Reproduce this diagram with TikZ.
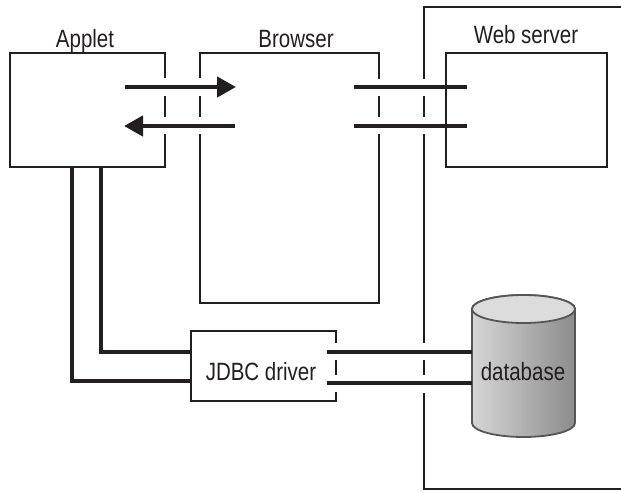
\documentclass[tikz,border=0pt]{standalone}
\usepackage{fontspec}
\setmainfont{Liberation Sans}[FakeStretch=0.82]
\usetikzlibrary{arrows.meta}
\definecolor{ink}{HTML}{231F20}
\definecolor{dbedge}{HTML}{555555}
\definecolor{dbleft}{HTML}{D6D6D6}
\definecolor{dbright}{HTML}{8C8C8C}
\definecolor{dbtop}{HTML}{DCDCDC}
\begin{document}
\begin{tikzpicture}[x=1pt,y=-1pt,
  frame/.style={line width=1.6pt, draw=ink},
  wire/.style={line width=4.4pt, draw=ink},
  lead/.style={line width=3.4pt, draw=ink, line join=miter},
  lbl/.style={font=\fontsize{25}{30}\selectfont, text=ink, inner sep=0pt, anchor=base},
  tip/.style={-{Triangle[length=19pt,width=20pt]}}]
\useasboundingbox (0,0) rectangle (621,491);

% Applet box (right side broken by the arrows)
\draw[frame] (165,78) -- (165,53) -- (10,53) -- (10,167) -- (165,167) -- (165,134);
\draw[frame] (165,96) -- (165,117);
% Browser box
\draw[frame] (200,78) -- (200,53) -- (379,53) -- (379,79);
\draw[frame] (200,96) -- (200,117);
\draw[frame] (379,96) -- (379,117);
\draw[frame] (200,134) -- (200,303) -- (379,303) -- (379,134);
% Web server outer frame
\draw[frame] (621,7) -- (424,7) -- (424,79);
\draw[frame] (424,96) -- (424,117);
\draw[frame] (424,134) -- (424,343);
\draw[frame] (424,360) -- (424,375);
\draw[frame] (424,393) -- (424,489) -- (621,489);
% Web server inner box
\draw[frame] (446,53) rectangle (607,167);
% JDBC driver box
\draw[frame] (336,343) -- (336,331) -- (191,331) -- (191,401) -- (336,401) -- (336,392);
\draw[frame] (336,360) -- (336,375);

% database cylinder
\path[left color=dbleft, right color=dbright, draw=dbedge, line width=1.8pt]
  (472,309) -- (472,423) arc[start angle=180, end angle=360, x radius=51.5pt, y radius=14pt]
  -- (575,309) arc[start angle=0, end angle=180, x radius=51.5pt, y radius=14pt] -- cycle;
\path[fill=dbtop, draw=dbedge, line width=1.8pt] (523.5,309) ellipse[x radius=51.5pt, y radius=14pt];

% labels
\node[lbl] (applet) at (85,47) {Applet};
\node[lbl] (browser) at (296,47) {Browser};
\node[lbl] (web) at (526,43) {Web server};
\node[lbl] (jdbc) at (261,380) {JDBC driver};
\node[lbl] (db) at (523,380) {database};

% connector end points
\coordinate (ar1s) at (125,87);  \coordinate (ar1e) at (236,87);
\coordinate (ar2s) at (235,126); \coordinate (ar2e) at (124,126);
\coordinate (bw1s) at (354,87);  \coordinate (bw1e) at (467,87);
\coordinate (bw2s) at (354,126); \coordinate (bw2e) at (467,126);
\coordinate (ld1s) at (101,167); \coordinate (ld1c) at (101,352); \coordinate (ld1e) at (191,352);
\coordinate (ld2s) at (72,167);  \coordinate (ld2c) at (72,381);  \coordinate (ld2e) at (191,381);
\coordinate (jd1s) at (327,352); \coordinate (jd1e) at (472,352);
\coordinate (jd2s) at (327,383); \coordinate (jd2e) at (472,383);

\draw[wire, tip] (ar1s) -- (ar1e);
\draw[wire, tip] (ar2s) -- (ar2e);
\draw[wire] (bw1s) -- (bw1e);
\draw[wire] (bw2s) -- (bw2e);
\draw[lead] (ld1s) -- (ld1c) -- (ld1e);
\draw[lead] (ld2s) -- (ld2c) -- (ld2e);
\draw[wire] (jd1s) -- (jd1e);
\draw[wire] (jd2s) -- (jd2e);
\end{tikzpicture}
\end{document}
